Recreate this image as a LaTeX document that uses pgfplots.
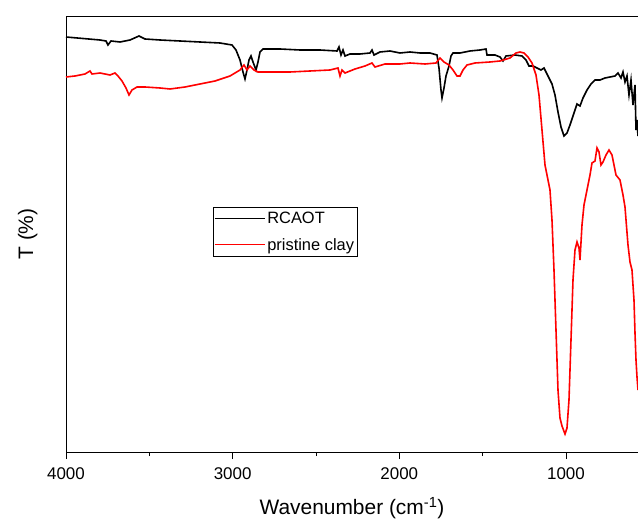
\documentclass[border=0pt]{standalone}
\usepackage{fontspec}
\setmainfont{Liberation Sans}
\usepackage{pgfplots}
\pgfplotsset{compat=1.18}

% FTIR spectra, transmittance in arbitrary units
\pgfplotstableread{
w T
4000 415
3796 412
3760 411
3748 407
3730 411
3676 410
3616 412
3562 416
3526 413
3436 412
3316 411
3196 410
3076 409
3004 407
2980 402
2956 392
2938 380
2926 373
2914 382
2902 392
2890 396
2878 390
2860 382
2848 390
2836 400
2818 403
2716 403
2596 402
2476 402
2374 401
2362 405
2350 397
2338 402
2326 396
2296 398
2236 398
2176 399
2164 402
2152 397
2116 400
2056 401
1996 399
1936 400
1876 399
1816 399
1774 397
1762 384
1750 362
1744 354
1732 364
1720 376
1702 386
1690 396
1678 399
1636 399
1576 401
1516 402
1480 403
1474 397
1426 397
1396 395
1378 391
1360 396
1306 397
1264 396
1240 392
1222 386
1198 386
1174 384
1150 382
1132 384
1108 376
1084 368
1066 357
1048 340
1030 325
1012 316
994 319
976 327
952 339
934 348
916 346
898 354
874 362
850 368
826 372
796 372
766 374
736 375
706 376
688 379
670 374
658 380
646 370
634 376
622 357
610 372
598 347
586 367
580 322
574 332
568 316
}\rcaot

\pgfplotstableread{
w T
4000 375
3946 376
3886 378
3856 381
3844 378
3796 379
3736 377
3706 379
3688 376
3664 371
3640 364
3622 357
3604 362
3574 365
3526 365
3436 364
3376 363
3286 365
3196 368
3106 371
3016 376
2956 382
2932 387
2914 382
2896 386
2872 382
2848 380
2776 380
2656 380
2536 381
2416 382
2368 384
2356 376
2344 382
2326 379
2266 383
2206 386
2164 389
2146 385
2086 388
1996 388
1936 389
1846 388
1780 389
1756 394
1732 390
1702 387
1678 382
1654 376
1636 376
1618 382
1594 387
1546 389
1456 390
1396 391
1336 394
1300 399
1276 400
1252 399
1228 395
1204 389
1180 377
1162 357
1144 322
1126 287
1108 272
1096 262
1084 232
1072 182
1060 122
1048 62
1036 34
1024 26
1006 18
994 24
982 52
970 112
958 172
946 202
934 210
922 204
916 192
904 227
892 247
874 262
856 277
844 289
826 291
814 304
802 300
790 287
778 290
760 297
742 302
724 297
712 287
700 277
676 272
658 257
646 245
628 207
616 190
604 182
592 152
586 119
580 92
574 75
568 62
}\clay

\begin{document}
\begin{tikzpicture}
\begin{axis}[
  scale only axis,
  width=572bp, height=436bp,
  x dir=reverse,
  xmin=568, xmax=4000,
  ymin=0, ymax=436,
  axis x line*=bottom,
  axis y line*=left,
  ytick=\empty,
  xtick={1000,2000,3000,4000},
  minor xtick={1500,2500,3500},
  tick align=outside,
  major tick length=7bp,
  minor tick length=4bp,
  tick style={black, line width=0.8bp},
  axis line style={line width=0.8bp},
  /pgf/number format/.cd, 1000 sep={}, assume math mode=true,
  /pgfplots/.cd,
  ticklabel style={font=\fontsize{17}{20}\selectfont},
  xticklabel style={yshift=-5bp},
  xlabel={Wavenumber (cm\textsuperscript{-1})},
  ylabel={T (\%)},
  label style={font=\fontsize{21}{25}\selectfont},
  xlabel style={yshift=-11bp},
  ylabel style={yshift=18bp},
  legend style={at={(0.257,0.562)}, anchor=north west, draw=black,
    font=\fontsize{16.5}{20}\selectfont, inner xsep=1bp, inner ysep=3bp,
    row sep=9bp},
  legend cell align=left,
  legend image code/.code={\draw[#1, line width=1.1bp] (0bp,0bp) -- (50bp,0bp);},
]
\addplot[black, line width=1.6bp] table[x=w, y=T] {\rcaot};
\addlegendentry{RCAOT}
\addplot[red, line width=1.6bp] table[x=w, y=T] {\clay};
\addlegendentry{pristine clay}
\end{axis}
\draw[line width=0.8bp] (current axis.north west) -- (current axis.north east);
\pgfresetboundingbox
\useasboundingbox ([xshift=-66bp,yshift=-68bp]current axis.south west) rectangle ([yshift=16bp]current axis.north east);
\end{tikzpicture}
\end{document}
